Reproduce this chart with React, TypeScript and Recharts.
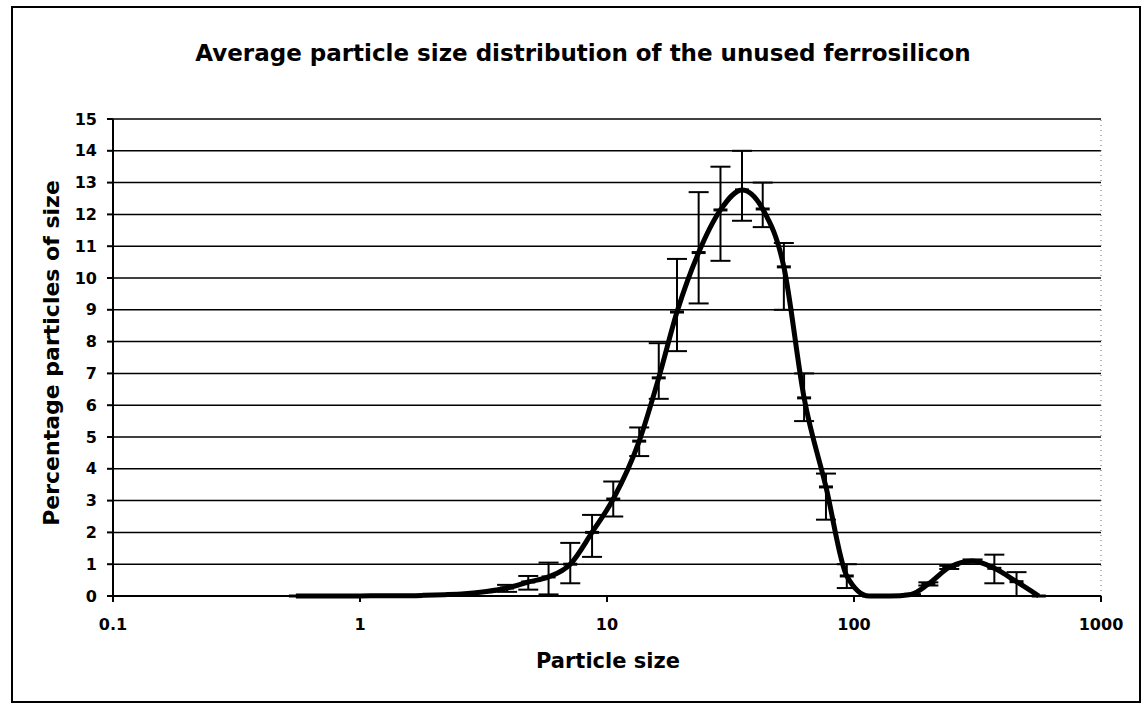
import React from 'react';
import { LineChart, Line, XAxis, YAxis, CartesianGrid, ErrorBar, ReferenceLine } from 'recharts';

// particle size (log scale) and percentage
const sizes = [0.55, 0.67, 0.82, 1.0, 1.22, 1.48, 1.8, 2.2, 2.65, 3.25, 3.94, 4.8, 5.8, 7.1, 8.7, 10.6, 13.5, 16.2, 19.2, 23.5, 28.8, 35.2, 42.7, 52, 62.8, 77, 93.5, 115, 140, 170, 200, 243, 302, 370, 455, 560];
const percentages = [0, 0, 0, 0, 0.01, 0.01, 0.02, 0.04, 0.07, 0.14, 0.25, 0.44, 0.6, 1.0, 2.0, 3.05, 4.87, 6.86, 8.93, 10.8, 12.14, 12.77, 12.17, 10.35, 6.23, 3.43, 0.63, 0, 0, 0.05, 0.38, 0.9, 1.1, 0.87, 0.45, 0];
const errLow = [0, 0, 0, 0, 0, 0, 0, 0, 0, 0, 0.12, 0.24, 0.55, 0.6, 0.77, 0.55, 0.47, 0.66, 1.23, 1.6, 1.6, 0.97, 0.57, 1.35, 0.73, 1.03, 0.38, 0, 0, 0, 0.05, 0.05, 0.05, 0.47, 0.45, 0];
const errHigh = [0, 0, 0, 0, 0, 0, 0, 0, 0, 0, 0.1, 0.19, 0.45, 0.67, 0.55, 0.55, 0.43, 1.09, 1.67, 1.9, 1.36, 1.23, 0.83, 0.75, 0.77, 0.42, 0.37, 0, 0, 0, 0.05, 0.05, 0.05, 0.43, 0.3, 0];

const xTicks = [0.1, 1, 10, 100, 1000];
const yTicks = [0, 1, 2, 3, 4, 5, 6, 7, 8, 9, 10, 11, 12, 13, 14, 15];

const data = sizes.map((s, i) => ({
  size: s,
  pct: percentages[i],
  err: [errLow[i], errHigh[i]],
}));

const FONT = '"DejaVu Sans", Arial, sans-serif';

const DashDot = (props: any) => {
  const { cx, cy, index } = props;
  if (cx == null || cy == null) return null;
  return <line key={`d-${index}`} x1={cx - 7} x2={cx + 7} y1={cy} y2={cy} stroke="#000" strokeWidth={3} />;
};

export default function App() {
  return (
    <div style={{ position: 'absolute', left: 0, top: 0, width: 1144, height: 705, background: '#fff', fontFamily: FONT }}>
      <div style={{ position: 'absolute', left: 11, top: 6, width: 1126, height: 693, border: '2px solid #000' }} />
      <div style={{ position: 'absolute', left: 83, width: 1000, top: 40, textAlign: 'center', fontWeight: 'bold', fontSize: 23 }}>
        Average particle size distribution of the unused ferrosilicon
      </div>
      <div
        style={{
          position: 'absolute', left: 51, top: 353, transform: 'translate(-50%, -50%) rotate(-90deg)',
          whiteSpace: 'nowrap', fontWeight: 'bold', fontSize: 22,
        }}
      >
        Percentage particles of size
      </div>
      <div style={{ position: 'absolute', left: 508, width: 200, top: 649, textAlign: 'center', fontWeight: 'bold', fontSize: 21 }}>
        Particle size
      </div>
      <div style={{ position: 'absolute', left: 0, top: 0 }}>
        <LineChart width={1144} height={705} data={data} margin={{ top: 119, right: 43, bottom: 79, left: 53 }}>
          <CartesianGrid horizontal vertical={false} stroke="#000" strokeWidth={1.5} />
          <XAxis
            dataKey="size"
            type="number"
            scale="log"
            domain={[0.1, 1000]}
            ticks={xTicks}
            allowDataOverflow
            height={30}
            tickSize={6}
            tickMargin={17}
            tickFormatter={(v: number) => String(v)}
            stroke="#000"
            strokeWidth={2}
            tick={{ fill: '#000', fontSize: 16, fontWeight: 'bold', fontFamily: FONT }}
          />
          <YAxis
            type="number"
            domain={[0, 15]}
            ticks={yTicks}
            interval={0}
            width={60}
            tickSize={6}
            tickMargin={10}
            stroke="#000"
            strokeWidth={2}
            tick={{ fill: '#000', fontSize: 16, fontWeight: 'bold', fontFamily: FONT }}
          />
          <ReferenceLine x={1000} stroke="#666" strokeDasharray="1 4" />
          <Line
            type="monotone"
            dataKey="pct"
            stroke="#000"
            strokeWidth={5}
            dot={<DashDot />}
            activeDot={false}
            isAnimationActive={false}
          >
            <ErrorBar dataKey="err" direction="y" width={10} strokeWidth={2} stroke="#000" isAnimationActive={false} />
          </Line>
        </LineChart>
      </div>
    </div>
  );
}
